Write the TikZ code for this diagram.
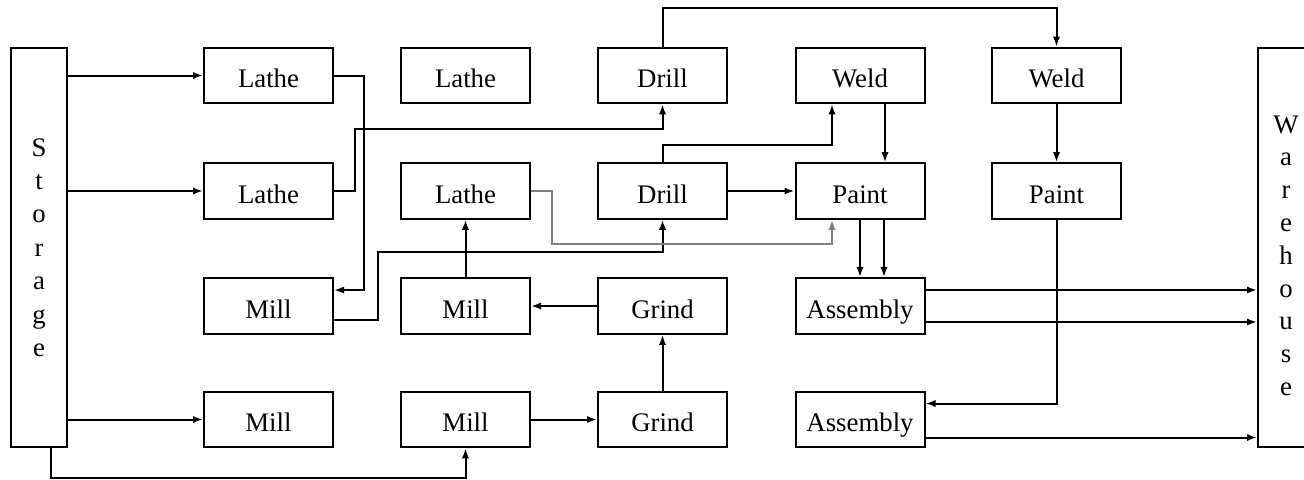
\documentclass[tikz,border=0pt]{standalone}
\usepackage{fontspec}
\setmainfont{Liberation Serif}
\usetikzlibrary{arrows.meta, positioning, calc}
\tikzset{
    plant/.style={>={Latex[length=5pt,width=3.6pt]}, line width=1pt, font=\fontsize{13.4}{16.7}\selectfont, x=0.5pt, y=-0.5pt},
    station/.style={draw, minimum width=64.5pt, minimum height=27.8pt, inner sep=0pt, text height=12pt, text depth=0pt},
    depot/.style={draw, minimum width=28pt, minimum height=199.5pt, align=center, inner sep=0pt},
    % the lathe-to-paint route is drawn lighter
    rework/.style={draw=black!50},
}

\begin{document}
\begin{tikzpicture}[plant]
    \useasboundingbox (0,0) rectangle (1304,479);
    \clip (0,0) rectangle (1304,479);

    % stores at both ends
    \node[depot] (store) at (39,247.5) {S\\t\\o\\r\\a\\g\\e};
    \node[depot, font=\fontsize{13.4}{16.4}\selectfont] (ware) at (1286,247.5)
        {\rule{0pt}{17pt}W\\a\\r\\e\\h\\o\\u\\s\\e};

    % first row
    \node[station] (lathe1) at (268.5,75.5) {Lathe};
    \node[station] (lathe3) at (465.5,75.5) {Lathe};
    \node[station] (drill1) at (662.5,75.5) {Drill};
    \node[station] (weld1) at (860,75.5) {Weld};
    \node[station] (weld2) at (1056.5,75.5) {Weld};

    % second row
    \node[station] (lathe2) at (268.5,191) {Lathe};
    \node[station] (lathe4) at (465.5,191) {Lathe};
    \node[station] (drill2) at (662.5,191) {Drill};
    \node[station] (paint1) at (860,191) {Paint};
    \node[station] (paint2) at (1056.5,191) {Paint};

    % third row
    \node[station] (mill1) at (268.5,306) {Mill};
    \node[station] (mill2) at (465.5,306) {Mill};
    \node[station] (grind1) at (662.5,306) {Grind};
    \node[station] (assy1) at (860,306) {Assembly};

    % fourth row
    \node[station] (mill3) at (268.5,419.5) {Mill};
    \node[station] (mill4) at (465.5,419.5) {Mill};
    \node[station] (grind2) at (662.5,419.5) {Grind};
    \node[station] (assy2) at (860,419.5) {Assembly};

    % out of storage
    \draw[->] (store.east |- lathe1) -- (lathe1.west);
    \draw[->] (store.east |- lathe2) -- (lathe2.west);
    \draw[->] (store.east |- mill3) -- (mill3.west);
    \draw[->] ([xshift=6pt]store.south) -- ++(0,-15pt) -| (mill4.south);

    % lathes and mills
    \draw[->] (lathe1.east) -- ++(15pt,0) |- ([yshift=8pt]mill1.east);
    \draw[->] (lathe2.east) -- ++(10.5pt,0) -- ++(0,31pt) -| (drill1.south);
    \draw[->] ([yshift=-7pt]mill1.east) -- ++(22pt,0) -- ++(0,34pt) -| (drill2.south);
    \draw[->, rework] (lathe4.east) -- ++(10.5pt,0) -- ++(0,-26.5pt) -| ([xshift=-14pt]paint1.south);
    \draw[->] (mill2) -- (lathe4);
    \draw[->] (grind1) -- (mill2);
    \draw[->] (mill4) -- (grind2);
    \draw[->] (grind2) -- (grind1);

    % drills, welds and paint
    \draw[->] (drill1.north) -- ++(0,19.5pt) -| (weld2.north);
    \draw[->] (drill2.north) -- ++(0,8.5pt) -| ([xshift=-14pt]weld1.south);
    \draw[->] (drill2) -- (paint1);
    \draw[->] ([xshift=12.5pt]weld1.south) -- ([xshift=12.5pt]paint1.north);
    \draw[->] (weld2) -- (paint2);
    \draw[->] (paint1.south) -- (assy1.north);
    \draw[->] ([xshift=12pt]paint1.south) -- ([xshift=12pt]assy1.north);
    \draw[->] (paint2.south) |- ([yshift=8pt]assy2.east);

    % into the warehouse
    \draw[->] ([yshift=8pt]assy1.east) -- ([yshift=8pt]assy1.east -| ware.west);
    \draw[->] ([yshift=-8pt]assy1.east) -- ([yshift=-8pt]assy1.east -| ware.west);
    \draw[->] ([yshift=-9pt]assy2.east) -- ([yshift=-9pt]assy2.east -| ware.west);
\end{tikzpicture}
\end{document}
